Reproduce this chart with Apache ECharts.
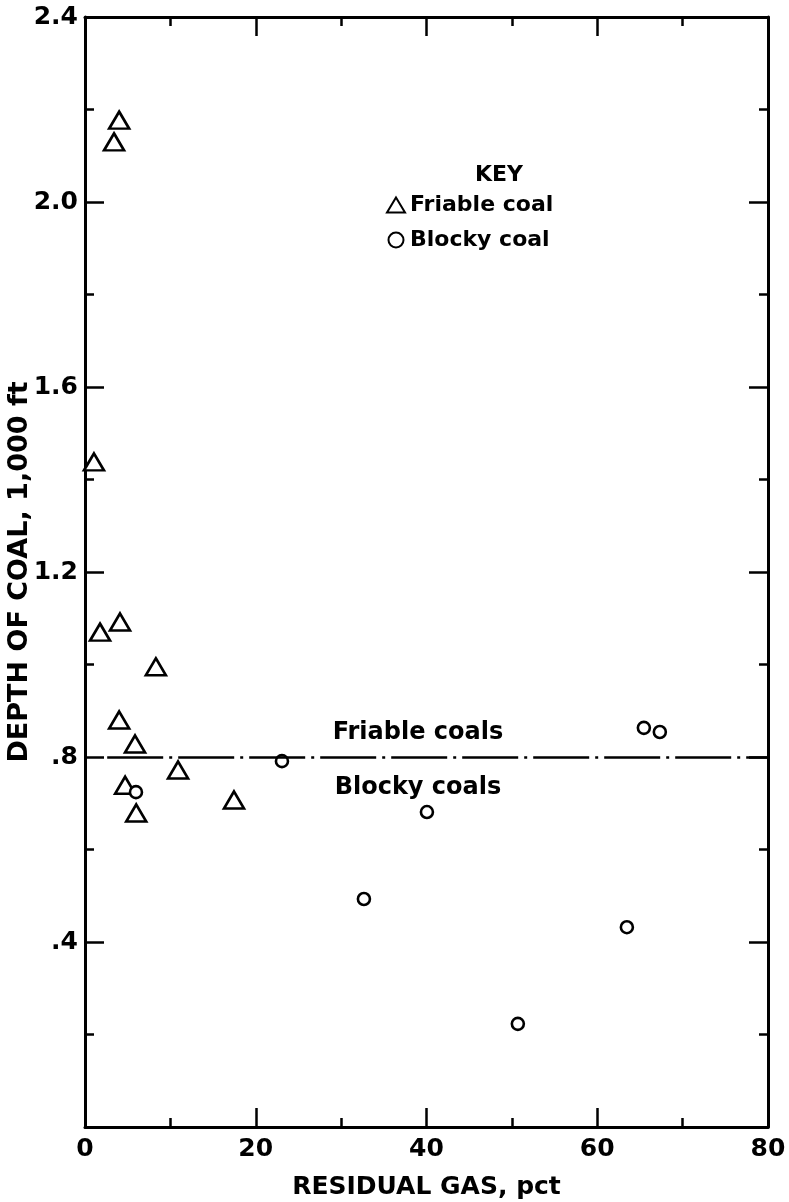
<!DOCTYPE html>
<html>
<head>
<meta charset="utf-8">
<script src="https://cdn.jsdelivr.net/npm/echarts@6/dist/echarts.min.js"></script>
<style>
  html, body { margin: 0; background: #fff; }
  #chart { width: 789px; height: 1202px; }
</style>
</head>
<body>
<div id="chart"></div>
<script>
// residual gas (pct) against depth of coal (1,000 ft)
const friableGas   = [4.0, 3.4, 1.05, 1.76, 4.1, 8.3, 4.0, 5.86, 10.9, 4.7, 6.0, 17.45];
const friableDepth = [2.177, 2.13, 1.438, 1.07, 1.092, 0.995, 0.88, 0.828, 0.772, 0.739, 0.679, 0.707];
const blockyGas    = [5.97, 23.07, 40.05, 32.67, 63.47, 50.7, 65.46, 67.33];
const blockyDepth  = [0.724, 0.791, 0.681, 0.493, 0.432, 0.223, 0.863, 0.854];

const yTicks      = [0, 0.4, 0.8, 1.2, 1.6, 2.0, 2.4];
const yTickLabels = ['', '.4', '.8', '1.2', '1.6', '2.0', '2.4'];

// friable / blocky dividing line
const dividerDepth = 0.8;
const dividerFrom  = 2.6;
const dividerTo    = 80;

const noteText  = ['Friable coals', 'Blocky coals'];
const noteGas   = [39, 39];
const noteDepth = [0.852, 0.733];

const FONT = 'DejaVu Sans';
const black = '#000';

const zip = (a, b) => a.map((v, i) => [v, b[i]]);

const chart = echarts.init(document.getElementById('chart'));

const tickCommon = {
  axisLine: { show: true, onZero: false, lineStyle: { color: black, width: 3 } },
  axisTick: { show: true, inside: true, length: 19, lineStyle: { color: black, width: 2.5 } },
  minorTick: { show: true, splitNumber: 2, length: 9, lineStyle: { color: black, width: 2.5 } },
  splitLine: { show: false },
  minorSplitLine: { show: false }
};

const labelStyle = { color: black, fontFamily: FONT, fontWeight: 'bold', fontSize: 25 };

chart.setOption({
  animation: false,
  backgroundColor: '#fff',
  grid: { left: 85, right: 21, top: 17, bottom: 75, containLabel: false, outerBoundsMode: 'none' },
  title: {
    text: 'KEY',
    left: 470, top: 159,
    textStyle: { color: black, fontFamily: FONT, fontWeight: 'bold', fontSize: 22 }
  },
  legend: {
    data: ['Friable coal', 'Blocky coal'],
    orient: 'vertical',
    left: 381, top: 189,
    itemWidth: 18, itemHeight: 15, itemGap: 13,
    textStyle: { color: black, fontFamily: FONT, fontWeight: 'bold', fontSize: 22, lineHeight: 22 }
  },
  xAxis: [
    Object.assign({
      type: 'value', min: 0, max: 80, interval: 20, position: 'bottom',
      name: 'RESIDUAL GAS, pct', nameLocation: 'middle', nameGap: 48, nameMoveOverlap: false,
      nameTextStyle: { color: black, fontFamily: FONT, fontWeight: 'bold', fontSize: 25 },
      axisLabel: Object.assign({ margin: 10 }, labelStyle)
    }, tickCommon),
    Object.assign({
      type: 'value', min: 0, max: 80, interval: 20, position: 'top',
      axisLabel: { show: false }
    }, tickCommon)
  ],
  yAxis: [
    Object.assign({
      type: 'value', min: 0, max: 2.4, interval: 0.4, position: 'left',
      name: 'DEPTH OF COAL, 1,000 ft', nameLocation: 'middle', nameGap: 52, nameRotate: 90,
      nameMoveOverlap: false,
      nameTextStyle: { color: black, fontFamily: FONT, fontWeight: 'bold', fontSize: 27 },
      axisLabel: Object.assign({
        margin: 7,
        formatter: v => {
          const i = yTicks.findIndex(t => Math.abs(t - v) < 1e-6);
          return i >= 0 ? yTickLabels[i] : '';
        }
      }, labelStyle)
    }, tickCommon),
    Object.assign({
      type: 'value', min: 0, max: 2.4, interval: 0.4, position: 'right',
      axisLabel: { show: false }
    }, tickCommon)
  ],
  series: [
    {
      name: 'Friable coal',
      type: 'scatter',
      symbol: 'triangle',
      symbolSize: [20, 17],
      itemStyle: { color: '#fff', borderColor: black, borderWidth: 2.6, opacity: 1 },
      data: zip(friableGas, friableDepth),
      z: 3,
      markLine: {
        silent: true,
        symbol: 'none',
        label: { show: false },
        lineStyle: { color: black, width: 2.5, type: [56, 6, 3, 6], opacity: 1 },
        data: [[{ coord: [dividerFrom, dividerDepth] }, { coord: [dividerTo, dividerDepth] }]]
      }
    },
    {
      name: 'Blocky coal',
      type: 'scatter',
      symbol: 'circle',
      symbolSize: 12,
      itemStyle: { color: '#fff', borderColor: black, borderWidth: 2.6, opacity: 1 },
      data: zip(blockyGas, blockyDepth),
      z: 4
    },
    {
      name: 'notes',
      type: 'scatter',
      silent: true,
      symbolSize: 0,
      itemStyle: { color: black, opacity: 1 },
      label: {
        show: true, position: 'inside', opacity: 1,
        formatter: p => p.data[2],
        color: black, fontFamily: FONT, fontWeight: 'bold', fontSize: 24
      },
      data: noteGas.map((g, i) => [g, noteDepth[i], noteText[i]])
    }
  ]
});
</script>
</body>
</html>
